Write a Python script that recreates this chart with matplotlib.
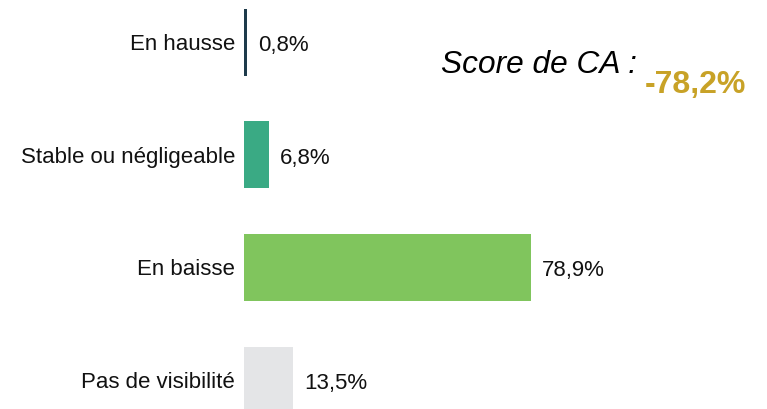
import matplotlib.pyplot as plt

plt.rcParams['font.family'] = ['Liberation Sans', 'DejaVu Sans']

# --- DONNEES ---
categories = ["En hausse", "Stable ou négligeable", "En baisse", "Pas de visibilité"]
values = [0.8, 6.8, 78.9, 13.5]
value_labels = ["0,8%", "6,8%", "78,9%", "13,5%"]
colors = ["#1E3B4B", "#3AAA84", "#80C55D", "#E4E5E7"]
score_title = "Score de CA :"
score_value = "-78,2%"

fig = plt.figure(figsize=(7.67, 4.09), dpi=100)
ax = fig.add_axes([244 / 767, 0, 523 / 767, 1])

pos = list(range(len(categories)))
ax.barh(pos, values, height=0.595, color=colors)

for p, v, lab in zip(pos, values, value_labels):
    ax.text(v + 3.0, p + 0.03, lab, va="center", ha="left", fontsize=16, color="#111111")

ax.set_yticks(pos)
ax.set_yticklabels(categories, fontsize=16, color="#111111")
ax.tick_params(axis="y", length=0, pad=6.5)
ax.set_xticks([])
ax.set_xlim(0, 523 / 3.64)
ax.set_ylim(3.256, -0.373)
for s in ax.spines.values():
    s.set_visible(False)

fig.text(441 / 767, 1 - 73 / 409, score_title, fontsize=22.8, style="italic",
         color="black", ha="left", va="baseline")
fig.text(645 / 767, 1 - 93 / 409, score_value, fontsize=23, fontweight="bold",
         color="#C8A227", ha="left", va="baseline")

fig.savefig("out.png", dpi=100)
